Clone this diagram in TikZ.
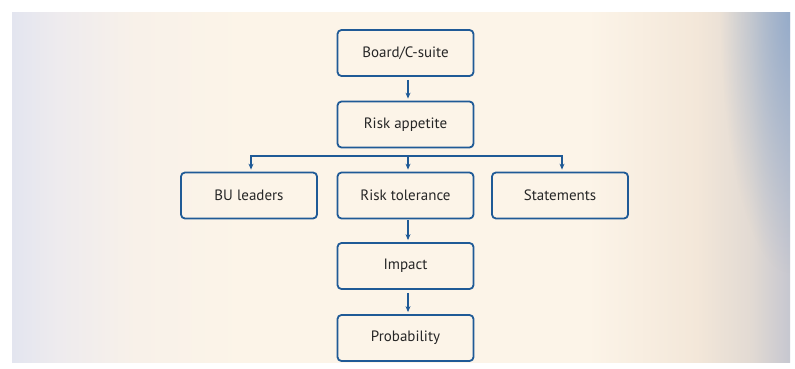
\documentclass[tikz,border=0pt]{standalone}
\usepackage{fontspec}
\setmainfont{PT Sans}
\usetikzlibrary{arrows.meta,fadings}
\definecolor{edgeblue}{HTML}{1F5A96}
\definecolor{txt}{HTML}{262626}
\definecolor{bgL}{HTML}{E3E5EF}
\definecolor{bgLm}{HTML}{EEEBEE}
\definecolor{bgLc}{HTML}{F8F1E9}
\definecolor{bgC}{HTML}{FCF4E8}
\definecolor{bgRc}{HTML}{F3E7D9}
\definecolor{bgR}{HTML}{E2DAD3}
\definecolor{bgRR}{HTML}{C6C7D0}
\definecolor{cornerblue}{HTML}{8AA5C8}
% background panel: lavender at the left, cream in the middle, grey at the right
\pgfdeclarehorizontalshading{panelshade}{100bp}{%
  color(0bp)=(bgL); color(25bp)=(bgL); color(28bp)=(bgLm); color(33bp)=(bgLc);
  color(40bp)=(bgC); color(62bp)=(bgC); color(69bp)=(bgRc); color(72.5bp)=(bgR);
  color(75bp)=(bgRR); color(100bp)=(bgRR)}
\tikzfading[name=cornerfade, inner color=transparent!0, outer color=transparent!100]
\begin{document}
\begin{tikzpicture}[x=1pt,y=-1pt,
  box/.style={draw=edgeblue, line width=1.8pt, rounded corners=4pt,
    minimum width=136pt, minimum height=46pt, inner sep=0pt,
    text=txt, font=\fontsize{15}{17}\selectfont},
  arr/.style={draw=edgeblue, line width=1.5pt,
    -{Stealth[length=6pt,width=5pt]}},
  bus/.style={draw=edgeblue, line width=1.5pt}]
  \useasboundingbox (0,0) rectangle (795,369);
  \fill[white] (0,0) rectangle (795,369);
  \shade[shading=panelshade] (12,13) rectangle (790,362);
  % blue tint running down the right edge from the top corner
  \begin{scope}
    \clip (12,13) rectangle (790,362);
    \fill[cornerblue, path fading=cornerfade, fit fading=true, opacity=0.8]
      (790,13) ellipse [x radius=70, y radius=260];
  \end{scope}

  \node[box] (board) at (405.5,53)  {Board/C-suite};
  \node[box] (appetite) at (405.5,124.5) {Risk appetite};
  \node[box] (bu) at (249,195.5) {BU leaders};
  \node[box] (tol) at (405.5,195.5) {Risk tolerance};
  \node[box] (stat) at (560,195.5) {Statements};
  \node[box] (impact) at (405.5,266) {Impact};
  \node[box] (prob) at (405.5,338) {Probability};

  \coordinate (busy) at (0,156);
  \coordinate (busL) at ([xshift=2pt]bu.north |- busy);
  \coordinate (busM) at ([xshift=2.5pt]tol.north |- busy);
  \coordinate (busR) at ([xshift=2pt]stat.north |- busy);

  \draw[arr, shorten <=3pt, shorten >=2pt] ([xshift=2.5pt]board.south) -- ([xshift=2.5pt]appetite.north);
  \draw[bus] ([xshift=-0.75pt]busL) -- ([xshift=0.75pt]busR);
  \draw[arr, shorten >=2pt] (busL) -- ([xshift=2pt]bu.north);
  \draw[arr, shorten >=2pt] (busM) -- ([xshift=2.5pt]tol.north);
  \draw[arr, shorten >=2pt] (busR) -- ([xshift=2pt]stat.north);
  \draw[arr, shorten <=1pt, shorten >=2pt] ([xshift=2.5pt]tol.south) -- ([xshift=2.5pt]impact.north);
  \draw[arr, shorten <=3pt, shorten >=2pt] ([xshift=2.5pt]impact.south) -- ([xshift=2.5pt]prob.north);
\end{tikzpicture}
\end{document}
